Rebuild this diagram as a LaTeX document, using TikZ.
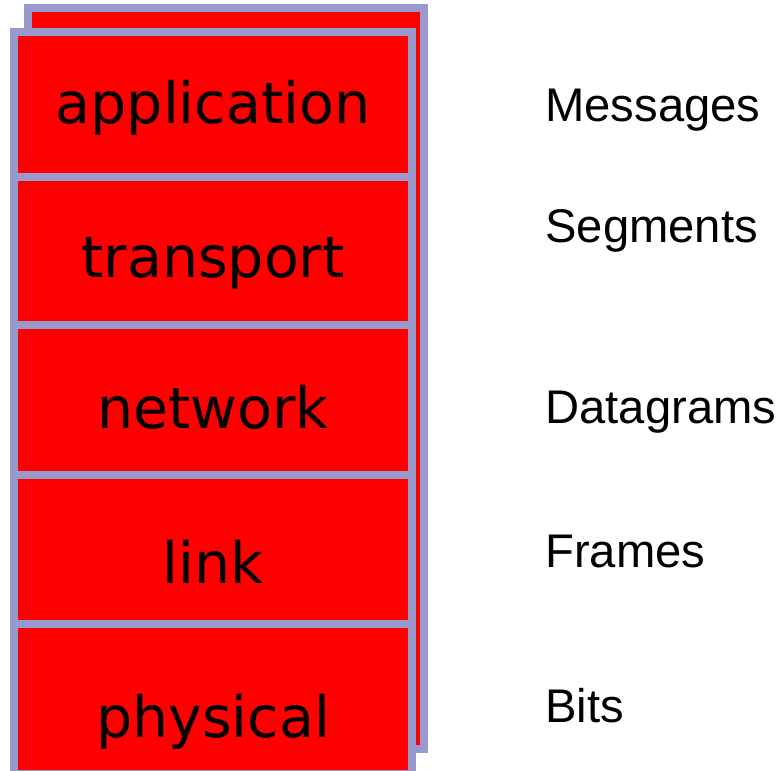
\documentclass[tikz,border=0pt]{standalone}
\usepackage{fontspec}
\setmainfont{Liberation Sans}
\newfontfamily\layerfont{DejaVu Sans}

\definecolor{lavender}{RGB}{153,153,204}
\tikzset{
  layerbox/.style={draw=lavender, fill=red, line width=4pt},
  layer/.style={anchor=base, inner sep=0pt,
    font=\layerfont\fontsize{28.5}{30}\selectfont},
  unit/.style={anchor=base west, inner sep=0pt, font=\fontsize{23.6}{26}\selectfont}
}

\begin{document}
\begin{tikzpicture}[x=0.5pt,y=-0.5pt]
\useasboundingbox (0,0) rectangle (782,771);
% stack behind
\draw[layerbox] (28,8) rectangle (424,749);
% the five layers
\foreach \top/\bot in {32/177, 177/325, 325/475, 475/624, 624/774} {
 \draw[layerbox] (14,\top) rectangle (412,\bot);
}
\node[layer] (app) at (213,123) {application};
\node[layer] (trans) at (213,277) {transport};
\node[layer] (net) at (213,428) {network};
\node[layer] (link) at (213,583) {link};
\node[layer] (phys) at (213,737) {physical};
% data units
\node[unit] (msg) at (545,121) {Messages};
\node[unit] (seg) at (545,242) {Segments};
\node[unit] (dgram) at (545,423) {Datagrams};
\node[unit] (frame) at (545,567) {Frames};
\node[unit] (bits) at (545,722) {Bits};
\end{tikzpicture}
\end{document}
